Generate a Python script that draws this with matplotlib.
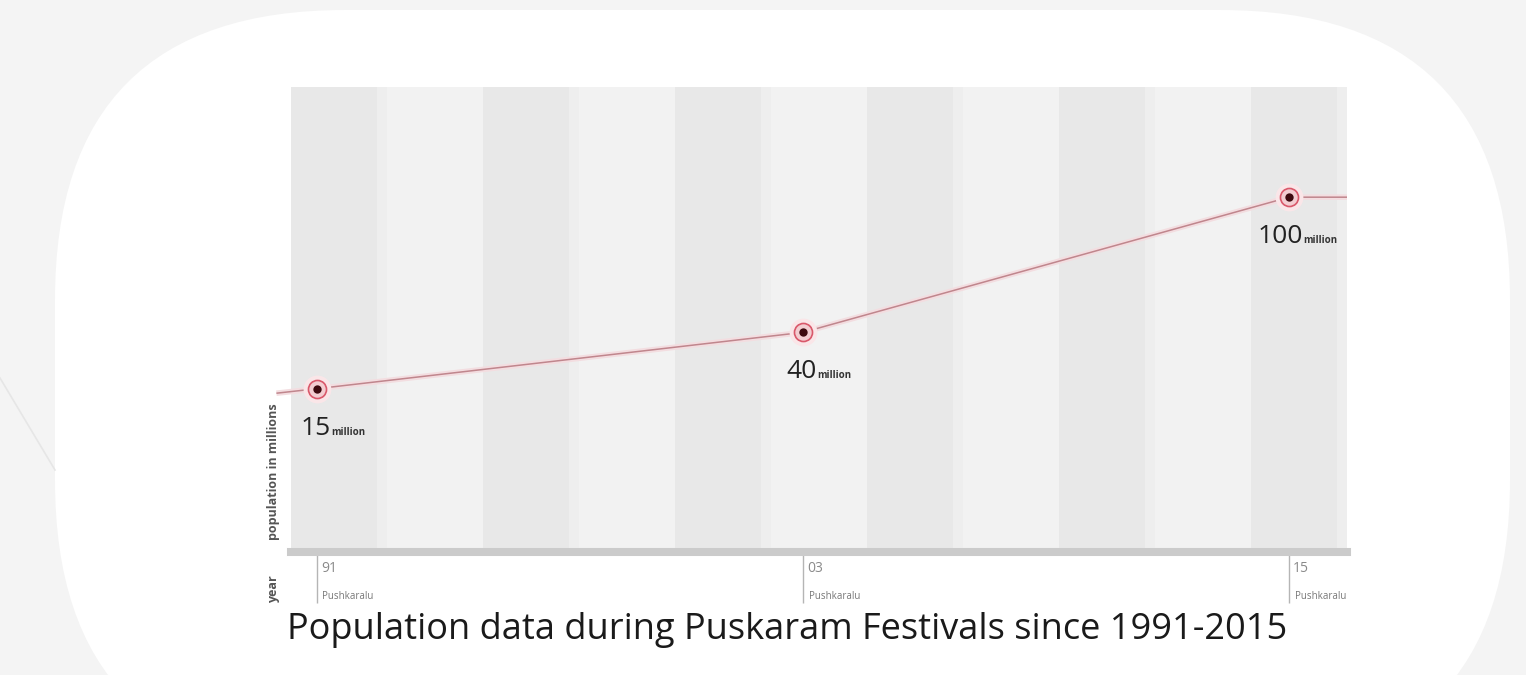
import matplotlib.pyplot as plt
from matplotlib.patches import FancyBboxPatch
import numpy as np

# festival years and visitor counts (millions)
years = [1991, 2003, 2015]
population = [15, 40, 100]
value_labels = ["15", "40", "100"]
tick_labels = ["91", "03", "15"]
tick_sublabel = "Pushkaralu"
title = "Population data during Puskaram Festivals since 1991-2015"

W, H = 1526, 675
fig = plt.figure(figsize=(W / 100, H / 100), dpi=100, facecolor="#f4f4f4")

# background: big white rounded panel
bg = fig.add_axes([0, 0, 1, 1], zorder=-5)
bg.set_xlim(0, W)
bg.set_ylim(H, 0)
bg.axis("off")
bg.add_patch(FancyBboxPatch((55, 10), 1455, 760, boxstyle="round,pad=0,rounding_size=290",
                            facecolor="white", edgecolor="none"))
bg.plot([0, 55], [378, 470], color="#e6e6e6", lw=1.2)

ax = fig.add_axes([291 / W, 1 - 548 / H, 1056 / W, 461 / H])
ax.set_xlim(1990.36, 2016.43)
ax.set_ylim(-55.7, 148.9)

# alternating vertical bands
edges = np.linspace(*ax.get_xlim(), 12)
for i in range(11):
    if i % 2 == 0:
        w = edges[i + 1] - edges[i]
        ax.axvspan(edges[i], edges[i + 1] - 0.1 * w, color="#e8e8e8", lw=0, zorder=0)
        ax.axvspan(edges[i + 1] - 0.1 * w, edges[i + 1], color="#eeeeee", lw=0, zorder=0)
    else:
        ax.axvspan(edges[i], edges[i + 1], color="#f2f2f2", lw=0, zorder=0)

# line, with short extensions past the first and last point
xs = [years[0] - 1.0] + years + [ax.get_xlim()[1]]
ys = [population[0] - 2] + population + [population[-1]]
ax.plot(xs, ys, color="#f3dde0", lw=4, zorder=2, clip_on=False, solid_capstyle="butt")
ax.plot(xs, ys, color="#c0868d", lw=1.1, zorder=3, clip_on=False, solid_capstyle="butt")

ax.plot(years, population, "o", ms=20, mfc="#fae6e8", mec="none", zorder=4)
ax.plot(years, population, "o", ms=13, mfc="#f3cdd1", mec="#d9586a", mew=1.2, zorder=5)
ax.plot(years, population, "o", ms=6, mfc="#3e0a0f", mec="none", zorder=6)

for x, v, lab in zip(years, population, value_labels):
    ax.annotate(lab, (x, v), xytext=(10, -33), textcoords="offset points", ha="right",
                va="baseline", fontsize=19, family="Open Sans", color="#222222", zorder=7)
    ax.annotate("million", (x, v), xytext=(10.5, -33), textcoords="offset points", ha="left",
                va="baseline", fontsize=7, family="Open Sans", weight="bold", color="#333333",
                zorder=7)

# axes styling
for s in ["left", "right", "top"]:
    ax.spines[s].set_visible(False)
ax.spines["bottom"].set_position(("outward", 2.9))
ax.spines["bottom"].set_linewidth(5.8)
ax.spines["bottom"].set_color("#cbcbcb")
ax.set_yticks([])
ax.set_xticks(years)
ax.set_xticklabels([])
ax.tick_params(axis="x", length=37, width=1, color="#b5b5b5", direction="out")

for x, lab in zip(years, tick_labels):
    ax.annotate(lab, (x, 0), xycoords=("data", "axes fraction"), xytext=(3, -15),
                textcoords="offset points", ha="left", va="center", fontsize=10,
                family="Open Sans", color="#8a8a8a")
    ax.annotate(tick_sublabel, (x, 0), xycoords=("data", "axes fraction"), xytext=(4, -35),
                textcoords="offset points", ha="left", va="center", fontsize=7,
                family="Open Sans", color="#777777")

ax.text(-0.017, 0.165, "population in millions", transform=ax.transAxes, rotation=90,
        ha="center", va="center", fontsize=9, family="Open Sans", weight="bold", color="#555555")
ax.text(-0.017, -0.09, "year", transform=ax.transAxes, rotation=90,
        ha="center", va="center", fontsize=9, family="Open Sans", weight="bold", color="#555555")

fig.text(287 / W, 1 - 630 / H, title, ha="left", va="center", fontsize=26,
         family="Open Sans", color="#1a1a1a")

fig.savefig("out.png", dpi=100, facecolor=fig.get_facecolor())
